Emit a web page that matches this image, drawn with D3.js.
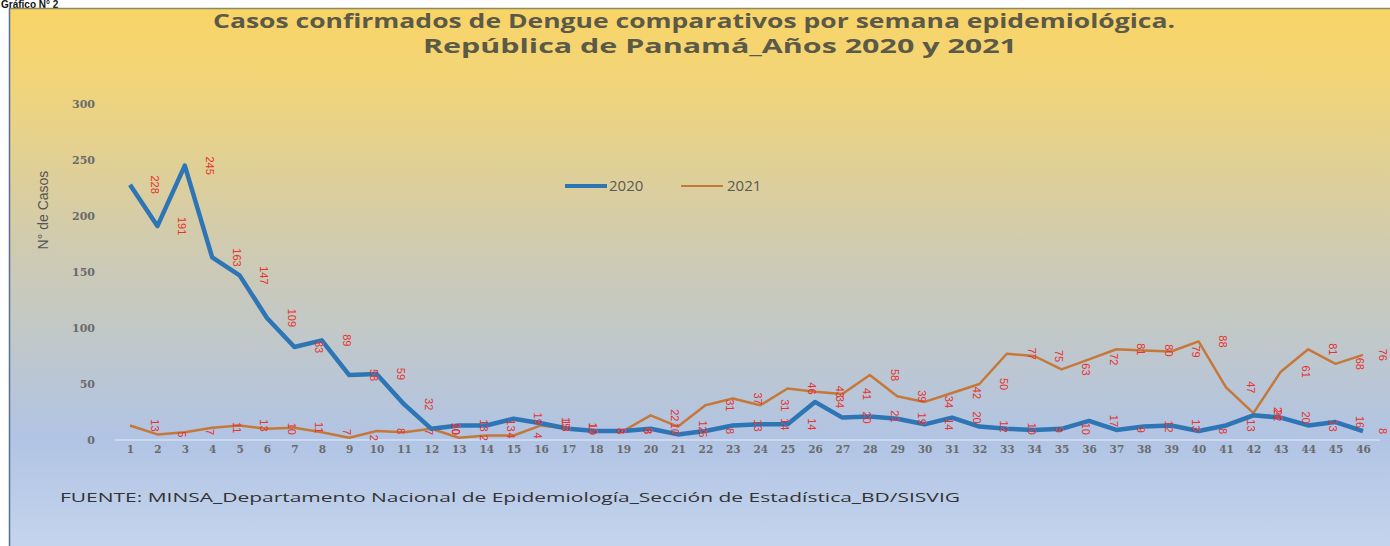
<!DOCTYPE html>
<html><head><meta charset="utf-8">
<script src="https://cdn.jsdelivr.net/npm/d3@7"></script>
<style>html,body{margin:0;padding:0;background:#fff;}svg{display:block;}</style>
</head><body>
<script>
const weeks = d3.range(1, 47);
const casos2020 = [228,191,245,163,147,109,83,89,58,59,32,10,13,13,19,15,10,8,8,10,5,8,13,14,14,34,20,21,19,14,20,12,10,9,10,17,9,12,13,8,13,22,20,13,16,8];
const casos2021 = [13,5,7,11,13,10,11,7,2,8,7,10,2,4,4,13,10,8,8,22,12,31,37,31,46,43,41,58,39,34,42,50,77,75,63,72,81,80,79,88,47,24,61,81,68,76];
const yTicks = [0,50,100,150,200,250,300];
const seriesNames = ["2020","2021"];
const colors = {"2020":"#2e75b6","2021":"#c5783a"};

const W = 1390, H = 546;
const svg = d3.select("body").append("svg").attr("width", W).attr("height", H);
const defs = svg.append("defs");
const grad = defs.append("linearGradient").attr("id","bg").attr("x1",0).attr("y1",0).attr("x2",0).attr("y2",1);
[[0,"#f9d466"],[0.12,"#f3d577"],[0.45,"#cfcbb2"],[0.8,"#b1c4e4"],[1,"#c4d4ed"]].forEach(([o,c])=>grad.append("stop").attr("offset",o).attr("stop-color",c));

svg.append("text").attr("x",1).attr("y",8).attr("font-family","Liberation Sans, Arial").attr("font-weight","bold")
  .attr("font-size",10).attr("fill","#111").text("Gráfico N° 2");
svg.append("rect").attr("x",9).attr("y",8).attr("width",W-9).attr("height",H-8).attr("fill","url(#bg)");
svg.append("line").attr("x1",9).attr("x2",W).attr("y1",8.5).attr("y2",8.5).attr("stroke","#8b8a62").attr("stroke-width",1.5);
svg.append("line").attr("x1",9.5).attr("x2",9.5).attr("y1",8).attr("y2",H).attr("stroke","#5a6f90").attr("stroke-width",1.5);

// title
svg.append("text").attr("x",694).attr("y",28).attr("text-anchor","middle").attr("font-family","Open Sans, sans-serif")
  .attr("font-weight","bold").attr("font-size",19).attr("fill","#5b5a48")
  .attr("textLength",962).attr("lengthAdjust","spacingAndGlyphs")
  .text("Casos confirmados de Dengue comparativos por semana epidemiológica.");
svg.append("text").attr("x",720).attr("y",53).attr("text-anchor","middle").attr("font-family","Open Sans, sans-serif")
  .attr("font-weight","bold").attr("font-size",19).attr("fill","#5b5a48")
  .attr("textLength",594).attr("lengthAdjust","spacingAndGlyphs")
  .text("República de Panamá_Años 2020 y 2021");

const x = d3.scaleLinear().domain([1,46]).range([130,1363]);
const y = d3.scaleLinear().domain([0,300]).range([440,104]);

// x baseline
svg.append("line").attr("x1",115).attr("x2",1380).attr("y1",y(0)).attr("y2",y(0)).attr("stroke","#e6ecf5").attr("stroke-width",1.2);

// y axis
const yAxis = d3.axisLeft(y).tickValues(yTicks).tickSize(0).tickPadding(0);
const gy = svg.append("g").attr("transform","translate(95,0)").call(yAxis);
gy.select(".domain").remove();
gy.selectAll("text").attr("font-family","DejaVu Serif, serif").attr("font-weight","bold").attr("font-size",11).attr("fill","#6b6b6b");

// x axis
const xAxis = d3.axisBottom(x).tickValues(weeks).tickFormat(d3.format("d")).tickSize(0).tickPadding(6);
const gx = svg.append("g").attr("transform",`translate(0,${y(0)})`).call(xAxis);
gx.select(".domain").remove();
gx.selectAll("text").attr("font-family","DejaVu Serif, serif").attr("font-weight","bold").attr("font-size",10.5).attr("fill","#6b6b6b");

// y title
svg.append("text").attr("transform","translate(48,210) rotate(-90)").attr("text-anchor","middle")
  .attr("font-family","Liberation Sans Narrow, Liberation Sans, sans-serif").attr("font-size",14).attr("fill","#555")
  .text("N° de Casos");

const line = d3.line().x((d,i)=>x(weeks[i])).y(d=>y(d));
svg.append("path").datum(casos2021).attr("d",line).attr("fill","none").attr("stroke",colors["2021"]).attr("stroke-width",2.5).attr("stroke-linejoin","round");
svg.append("path").datum(casos2020).attr("d",line).attr("fill","none").attr("stroke",colors["2020"]).attr("stroke-width",4.5).attr("stroke-linejoin","round");

// data labels (rotated, shifted as in reference)
function labels(data){
  svg.append("g").selectAll("text").data(data).join("text")
    .attr("transform",(d,i)=>`translate(${Math.min(x(weeks[i]+0.9), W-7)},${y(d)}) rotate(90)`)
    .attr("text-anchor","middle").attr("dy","0.35em")
    .attr("font-family","Liberation Sans Narrow, Liberation Sans, sans-serif").attr("font-size",11)
    .attr("fill","#e5332e").text(d=>d);
}
labels(casos2020);
labels(casos2021);

// legend
const leg = svg.append("g");
leg.append("line").attr("x1",565).attr("x2",607).attr("y1",186).attr("y2",186).attr("stroke",colors["2020"]).attr("stroke-width",4);
leg.append("text").attr("x",609).attr("y",191).attr("font-family","Open Sans, sans-serif").attr("font-size",15).attr("fill","#5a5a50").text(seriesNames[0]);
leg.append("line").attr("x1",681).attr("x2",723).attr("y1",186).attr("y2",186).attr("stroke",colors["2021"]).attr("stroke-width",2);
leg.append("text").attr("x",727).attr("y",191).attr("font-family","Open Sans, sans-serif").attr("font-size",15).attr("fill","#5a5a50").text(seriesNames[1]);

// source
svg.append("text").attr("x",60).attr("y",502).attr("font-family","Open Sans, sans-serif").attr("font-size",13.5).attr("fill","#333")
  .attr("textLength",900).attr("lengthAdjust","spacingAndGlyphs")
  .text("FUENTE: MINSA_Departamento  Nacional de Epidemiología_Sección de Estadística_BD/SISVIG");
</script>
</body></html>
